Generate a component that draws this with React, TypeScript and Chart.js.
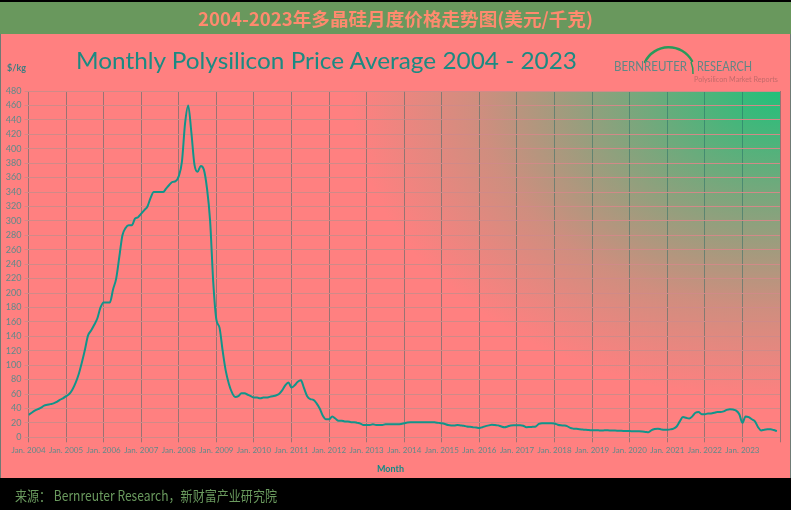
import React, { useEffect, useRef } from 'react';
import { Chart, registerables } from 'chart.js';

Chart.register(...registerables);

const TITLE_CN = '2004-2023年多晶硅月度价格走势图(美元/千克)';
const CHART_TITLE = 'Monthly Polysilicon Price Average 2004 - 2023';
const SOURCE = '来源： Bernreuter Research，新财富产业研究院';
const Y_UNIT = '$/kg';
const X_TITLE = 'Month';
const FIRST_YEAR = 2004;
const Y_MAX = 480;
const Y_STEP = 20;

// Monthly average price, $/kg (Jan..Dec)
const p2004 = [31, 34, 37, 39, 41, 44, 45, 46, 47, 49, 52, 54];
const p2005 = [57, 60, 66, 75, 87, 103, 121, 141, 148, 156, 165, 180];
const p2006 = [187, 187, 187, 205, 220, 250, 280, 290, 294, 294, 303, 305];
const p2007 = [310, 315, 320, 332, 340, 340, 340, 340, 345, 350, 354, 355];
const p2008 = [362, 382, 435, 460, 423, 378, 368, 376, 371, 345, 300, 215];
const p2009 = [163, 152, 120, 92, 74, 62, 56, 57, 61, 61, 59, 57];
const p2010 = [55, 55, 54, 55, 55, 56, 57, 58, 60, 65, 72, 76];
const p2011 = [69, 72, 77, 79, 68, 57, 53, 52, 47, 40, 30, 25];
const p2012 = [25, 29, 26, 23, 23, 22, 22, 21, 21, 20, 19, 17];
const p2013 = [17, 17, 18, 17, 17, 17, 18, 18, 18, 18, 18, 18.5];
const p2014 = [19.5, 20.5, 21, 21, 21, 21, 21, 21, 21, 21, 20.5, 20];
const p2015 = [19.5, 18.5, 17, 16.5, 16.5, 17, 16.5, 16, 15, 14.5, 14, 13.5];
const p2016 = [13, 14, 15.5, 16.5, 17.5, 17, 16.5, 15, 14, 15, 16.5, 16.6];
const p2017 = [16.6, 16.6, 16, 14, 14.2, 14.5, 15, 18.5, 19.5, 19.5, 19.5, 19.5];
const p2018 = [19, 17.5, 16.6, 16.3, 15.5, 13, 12, 11.7, 11.3, 10.8, 10.3, 10];
const p2019 = [9.7, 9.7, 9.6, 9.5, 9.6, 9.6, 9.4, 9.3, 9.2, 9, 8.8, 8.7];
const p2020 = [8.6, 8.5, 8.4, 8.3, 8, 7.5, 7, 10, 11.5, 12, 11, 10.3];
const p2021 = [10.5, 11, 12, 15, 22, 28, 27, 26, 29, 34, 35, 32];
const p2022 = [32, 33, 33, 34, 35, 35, 36, 38, 39, 38.5, 37, 32];
const p2023 = [20, 29, 28, 25, 22, 14, 9.5, 10.5, 11, 11, 10, 8.5];

const prices = [
  ...p2004, ...p2005, ...p2006, ...p2007, ...p2008, ...p2009, ...p2010,
  ...p2011, ...p2012, ...p2013, ...p2014, ...p2015, ...p2016, ...p2017,
  ...p2018, ...p2019, ...p2020, ...p2021, ...p2022, ...p2023,
];

const bgPlugin = {
  id: 'plotBg',
  beforeDraw(chart: any) {
    const { ctx, chartArea: a } = chart;
    const w = a.right - a.left;
    const h = a.bottom - a.top;
    ctx.save();
    ctx.fillStyle = '#ff8080';
    ctx.fillRect(a.left, a.top, w, h);
    ctx.beginPath();
    ctx.rect(a.left, a.top, w, h);
    ctx.clip();
    ctx.translate(a.right, a.top);
    ctx.scale(1, 0.72);
    const g = ctx.createRadialGradient(0, 0, 0, 0, 0, 430);
    g.addColorStop(0, 'rgba(34,192,122,1)');
    g.addColorStop(0.35, 'rgba(34,192,122,0.6)');
    g.addColorStop(0.7, 'rgba(34,192,122,0.22)');
    g.addColorStop(1, 'rgba(34,192,122,0)');
    ctx.fillStyle = g;
    ctx.fillRect(-w, 0, w, h / 0.72);
    ctx.restore();
  },
};

function PriceChart() {
  const ref = useRef<HTMLCanvasElement>(null);
  useEffect(() => {
    const canvas = ref.current;
    if (!canvas) return;
    const chart = new Chart(canvas, {
      type: 'line',
      data: {
        datasets: [
          {
            data: prices.map((y, i) => ({ x: i, y })),
            borderColor: '#12948a',
            borderWidth: 2,
            pointRadius: 0,
            fill: false,
            cubicInterpolationMode: 'monotone',
          },
        ],
      },
      options: {
        responsive: false,
        animation: false,
        events: [],
        layout: { padding: { top: 57, right: 11, left: 0, bottom: 0 } },
        plugins: { legend: { display: false }, tooltip: { enabled: false }, title: { display: false } },
        scales: {
          x: {
            type: 'linear',
            min: 0,
            max: prices.length,
            afterFit: (s: any) => { s.height = 40.7; },
            afterBuildTicks: (s: any) => {
              const t = [];
              for (let v = 0; v <= prices.length; v += 12) t.push({ value: v });
              s.ticks = t;
            },
            ticks: {
              autoSkip: false,
              maxRotation: 0,
              padding: 3,
              color: '#5f8a8a',
              font: { family: 'Lato', size: 8 },
              callback: (v: any) => (v < prices.length ? 'Jan. ' + (FIRST_YEAR + v / 12) : ''),
            },
            grid: { color: 'rgba(30,100,100,0.45)', tickLength: 5, lineWidth: 1 },
            border: { display: false },
          },
          y: {
            min: 0,
            max: Y_MAX,
            afterFit: (s: any) => { s.width = 28.5; },
            ticks: {
              stepSize: Y_STEP,
              padding: 3,
              color: '#5f8a8a',
              font: { family: 'Lato', size: 9 },
            },
            grid: { color: '#d08a88', tickLength: 4, lineWidth: 1 },
            border: { display: false },
          },
        },
      },
      plugins: [bgPlugin],
    } as any);
    return () => chart.destroy();
  }, []);
  return (
    <canvas
      ref={ref}
      width={791}
      height={444}
      style={{ position: 'absolute', left: 0, top: 34, width: 791, height: 444 }}
    />
  );
}

export default function App() {
  return (
    <div
      style={{
        position: 'fixed',
        left: 0,
        top: 0,
        width: 791,
        height: 510,
        background: '#000',
        overflow: 'hidden',
      }}
    >
      <div style={{ position: 'absolute', left: 0, top: 2, width: 791, height: 32, background: '#69985d' }} />
      <div
        style={{
          position: 'absolute',
          left: 0,
          top: 34,
          width: 791,
          height: 444,
          background: '#ff8080',
          boxSizing: 'border-box',
          borderLeft: '1px solid #6f7a74',
          borderRight: '1px solid #6f7a74',
        }}
      />
      <PriceChart />
      <svg
        width={791}
        height={510}
        style={{ position: 'absolute', left: 0, top: 0, pointerEvents: 'none' }}
      >
        <text
          x={395.5}
          y={26}
          textAnchor="middle"
          fontFamily="'Noto Sans CJK SC', sans-serif"
          fontWeight="bold"
          fontSize={18}
          fill="#ff8a6e"
          textLength={395}
          lengthAdjust="spacingAndGlyphs"
        >
          {TITLE_CN}
        </text>
        <text
          x={76}
          y={69}
          fontFamily="Lato, sans-serif"
          fontSize={24}
          fill="#1b8a82"
          textLength={501}
          lengthAdjust="spacingAndGlyphs"
        >
          {CHART_TITLE}
        </text>
        <text
          x={7}
          y={71}
          fontFamily="Lato, sans-serif"
          fontWeight="bold"
          fontSize={10}
          fill="#3c7d80"
          textLength={19}
          lengthAdjust="spacingAndGlyphs"
        >
          {Y_UNIT}
        </text>
        <text
          x={390.5}
          y={471.5}
          textAnchor="middle"
          fontFamily="Lato, sans-serif"
          fontWeight="bold"
          fontSize={10}
          fill="#128a86"
          textLength={27}
          lengthAdjust="spacingAndGlyphs"
        >
          {X_TITLE}
        </text>
        <path
          d="M 645 62 A 26.5 26.5 0 0 1 692 61"
          stroke="#2a9a5a"
          strokeWidth={2.5}
          fill="none"
          strokeLinecap="round"
        />
        <path
          d="M 691 62 A 26.5 26.5 0 0 1 693 74"
          stroke="#2a9a5a"
          strokeWidth={1.5}
          fill="none"
        />
        <text
          x={614}
          y={71}
          fontFamily="Lato, sans-serif"
          fontSize={14}
          fill="#5f8785"
          textLength={73}
          lengthAdjust="spacingAndGlyphs"
        >
          BERNREUTER
        </text>
        <text
          x={697}
          y={71}
          fontFamily="Lato, sans-serif"
          fontSize={14}
          fill="#5f8785"
          textLength={55}
          lengthAdjust="spacingAndGlyphs"
        >
          RESEARCH
        </text>
        <text
          x={694}
          y={82}
          fontFamily="Lato, sans-serif"
          fontSize={8}
          fill="#c46a6a"
          textLength={84}
          lengthAdjust="spacingAndGlyphs"
        >
          Polysilicon Market Reports
        </text>
        <text
          x={15}
          y={501}
          fontFamily="'Noto Sans CJK SC', sans-serif"
          fontSize={14}
          fill="#6a9a5e"
          textLength={262}
          lengthAdjust="spacingAndGlyphs"
        >
          {SOURCE}
        </text>
      </svg>
    </div>
  );
}
